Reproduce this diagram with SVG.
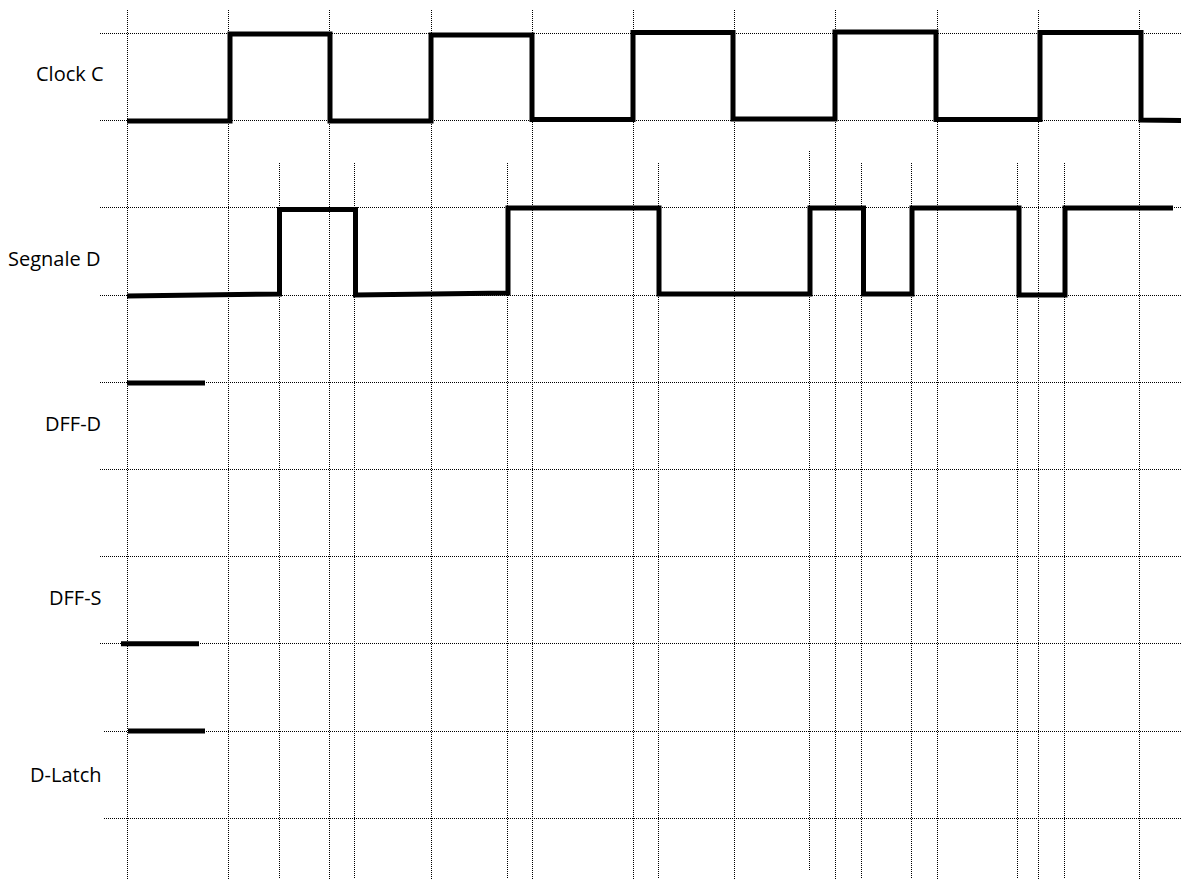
<svg xmlns="http://www.w3.org/2000/svg" width="1181" height="879" viewBox="0 0 1181 879">
<style>
.grid{stroke:#000;stroke-width:1;stroke-dasharray:1 1;fill:none}
.sig{stroke:#000;stroke-width:5;fill:none;stroke-linejoin:miter;stroke-linecap:butt}
.lbl{font-family:"Open Sans","Liberation Sans",sans-serif;font-size:20px;fill:#000}
</style>
<rect width="1181" height="879" fill="#fff"/>
<g id="grid">
<path class="grid" d="M100,33.5H1181M100,120.5H1181M100,207.5H1181M100,295.5H1181M100,382.5H1181M100,469.5H1181M100,556.5H1181M100,643.5H1181M104,731.5H1181M104,818.5H1181"/>
<path class="grid" d="M127.5,10V879M228.5,10V879M329.5,10V879M431.5,10V879M532.5,10V879M633.5,10V879M734.5,10V879M835.5,10V879M937.5,10V879M1038.5,10V879M1139.5,10V879"/>
<path class="grid" d="M279.5,163V879M354.5,163V879M507.5,163V879M658.5,163V879M809.5,151V870M861.5,163V879M911.5,163V879M1017.5,163V879M1064.5,163V879"/>
</g>
<g id="clock">
<text class="lbl" x="36" y="81">Clock C</text>
<path class="sig" d="M127,121H230V34H330V121H431V35H532V119.5H633V32.5H733V119H835V32H936V119.5H1040V32.5H1141V120L1181,120.5"/>
</g>
<g id="segnale">
<text class="lbl" x="8" y="265.5">Segnale D</text>
<path class="sig" d="M127,296L279.5,294V209.5H355.5V295L508,293V208H659V294H810V208H863.5V294H912V208H1019V295H1065V208H1173"/>
</g>
<g id="dffd">
<text class="lbl" x="45" y="430.5">DFF-D</text>
<path class="sig" stroke-width="4.5" d="M127,383H205"/>
</g>
<g id="dffs">
<text class="lbl" x="49" y="605">DFF-S</text>
<path class="sig" stroke-width="6" d="M121,643.7H199"/>
</g>
<g id="dlatch">
<text class="lbl" x="30" y="781.5">D-Latch</text>
<path class="sig" stroke-width="4.5" d="M128,731H205"/>
</g>
</svg>
